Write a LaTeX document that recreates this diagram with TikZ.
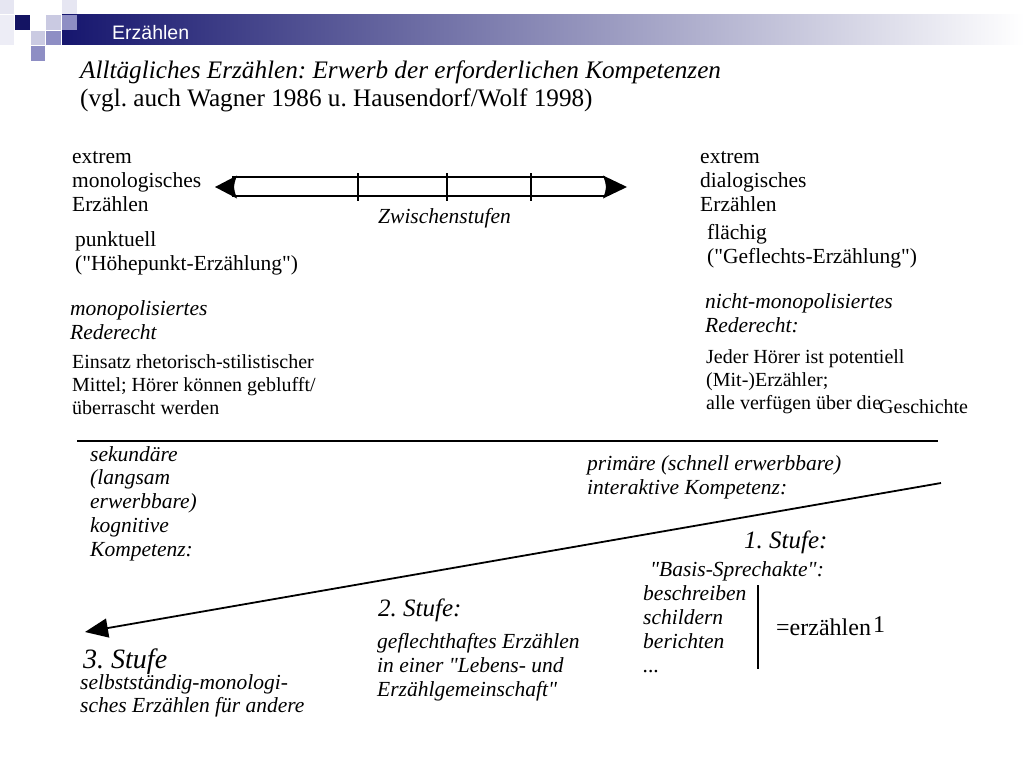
\documentclass[tikz,border=0pt]{standalone}
\usepackage{fontspec}
\setmainfont{Liberation Serif}[Ligatures=TeXOff]
\newfontfamily\hdfont{Liberation Sans}
\usetikzlibrary{arrows.meta}
\frenchspacing
\definecolor{hdnavy}{HTML}{16166E}
\definecolor{sqlight}{HTML}{CACAE2}
\definecolor{sqmid}{HTML}{8E8EC4}
\definecolor{sqpale}{HTML}{E6E6F2}
\tikzset{
  txt/.style={anchor=base west, inner sep=0pt, align=left, font=\fontsize{21.5}{24}\selectfont},
  itx/.style={txt, font=\fontsize{21.5}{24}\selectfont\itshape},
  sml/.style={txt, font=\fontsize{20}{23}\selectfont},
  stufe/.style={txt, font=\fontsize{25}{28}\selectfont\itshape},
  rule/.style={line width=1.8pt},
  dline/.style={line width=1.4pt},
}
\begin{document}
\begin{tikzpicture}[x=1pt,y=-1pt]
\useasboundingbox (0,0) rectangle (1024,768);
% header
\shade[left color=hdnavy, right color=white] (62,15) rectangle (1024,45);
\fill[sqpale] (0,0) rectangle (14,14);
\fill[sqpale!70] (0,15) rectangle (14,45);
\fill[hdnavy!90!black] (15,15) rectangle (30,30);
\fill[sqlight] (46,15) rectangle (61,30);
\fill[sqmid] (62,15) rectangle (77,30);
\fill[sqpale] (62,0) rectangle (77,14);
\fill[sqlight] (31,31) rectangle (45,45);
\fill[sqmid] (46,31) rectangle (61,45);
\fill[sqmid] (31,46) rectangle (45,61);
\node[anchor=base west, inner sep=0pt, text=white, font=\hdfont\fontsize{19.5}{21}\selectfont] (hd) at (112,40) {Erzählen};
% title
\node[txt, font=\fontsize{25.2}{28}\selectfont\itshape] (t1) at (80,78) {Alltägliches Erzählen: Erwerb der erforderlichen Kompetenzen};
\node[txt, font=\fontsize{25.2}{28}\selectfont] (t2) at (80,106) {(vgl. auch Wagner 1986 u. Hausendorf/Wolf 1998)};
% scale
\node[txt] (lmono) at (72,211) {extrem\\monologisches\\Erzählen};
\node[txt] (rdia) at (700,211) {extrem\\dialogisches\\Erzählen};
\coordinate (la) at (215,187);
\coordinate (ra) at (627,187);
\draw[dline] (232,177) -- (605,177);
\draw[dline] (232,196) -- (605,196);
\fill (la) -- (237,175.5) .. controls (233,187) .. (237,198.5) -- cycle;
\fill (ra) -- (603,175.5) .. controls (607,187) .. (603,198.5) -- cycle;
\foreach \x in {358,447,531} \draw[rule] (\x,173) -- (\x,201);
\node[itx] (zw) at (378,223) {Zwischenstufen};
\node[txt] (punk) at (75,270) {punktuell\\("Höhepunkt-Erzählung")};
\node[txt] (flae) at (707,263) {flächig\\("Geflechts-Erzählung")};
\node[itx] (mono) at (70,339) {monopolisiertes\\Rederecht};
\node[itx] (nmono) at (705,332) {nicht-monopolisiertes\\Rederecht:};
\node[sml] (eins) at (72,414) {Einsatz rhetorisch-stilistischer\\Mittel; Hörer können geblufft/\\überrascht werden};
\node[sml] (jed) at (706,409) {Jeder Hörer ist potentiell\\(Mit-)Erzähler;\\alle verfügen über die};
\node[sml] (gesch) at (879,413) {Geschichte};
% divider
\coordinate (dl) at (77,441);
\coordinate (dr) at (938,441);
\draw[rule] (dl) -- (dr);
\node[itx, font=\fontsize{21.5}{23.75}\selectfont\itshape] (sek) at (90,556) {sekundäre\\(langsam\\erwerbbare)\\kognitive\\Kompetenz:};
\node[itx] (prim) at (587,494) {primäre (schnell erwerbbare)\\interaktive Kompetenz:};
% diagonal arrow
\coordinate (as) at (941,483);
\coordinate (ae) at (85,632);
\draw[rule, -{Triangle[length=23pt,width=19pt]}] (as) -- (ae);
\node[stufe] (s1) at (744,548) {1. Stufe:};
\node[itx] (basis) at (650,576) {"Basis-Sprechakte":};
\node[itx] (akte) at (643,672) {beschreiben\\schildern\\berichten\\...};
\coordinate (vt) at (758,585);
\coordinate (vb) at (758,669);
\draw[rule] (vt) -- (vb);
\node[txt, font=\fontsize{24}{28}\selectfont] (erz) at (776,635) {=erzählen};
\node[txt, font=\fontsize{24}{28}\selectfont] (one) at (873,632) {1};
\node[stufe] (s2) at (378,616) {2. Stufe:};
\node[itx] (gefl) at (377,696) {geflechthaftes Erzählen\\in einer "Lebens- und\\Erzählgemeinschaft"};
\node[stufe, font=\fontsize{28}{30}\selectfont\itshape] (s3) at (83,668) {3. Stufe};
\node[itx, font=\fontsize{21.5}{23}\selectfont\itshape] (selb) at (80,712) {selbstständig-monologi-\\sches Erzählen für andere};
\end{tikzpicture}
\end{document}
